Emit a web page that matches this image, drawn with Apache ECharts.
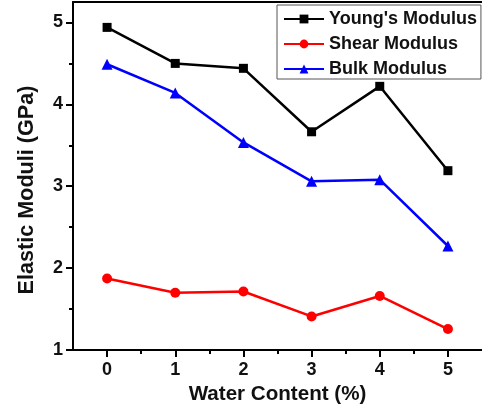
<!DOCTYPE html>
<html>
<head>
<meta charset="utf-8">
<script src="https://cdn.jsdelivr.net/npm/echarts@6/dist/echarts.min.js"></script>
<style>html,body{margin:0;padding:0;background:#fff}#c{width:482px;height:412px}</style>
</head>
<body>
<div id="c"></div>
<script>
const waterContent = [0, 1, 2, 3, 4, 5];
const youngsModulus = [4.94, 4.50, 4.44, 3.665, 4.22, 3.19];
const shearModulus = [1.874, 1.70, 1.715, 1.41, 1.66, 1.256];
const bulkModulus = [4.49, 4.14, 3.535, 3.06, 3.08, 2.27];
const xMajorTicks = [0, 1, 2, 3, 4, 5];
const xMinorTicks = [0.5, 1.5, 2.5, 3.5, 4.5];
const yMajorTicks = [1, 2, 3, 4, 5];
const yMinorTicks = [1.5, 2.5, 3.5, 4.5];

const FONT = 'Liberation Sans';
const pair = arr => waterContent.map((x, i) => [x, arr[i]]);
const chart = echarts.init(document.getElementById('c'));
const lineStyleAxis = { color: '#000', width: 2 };
chart.setOption({
  animation: false,
  backgroundColor: '#fff',
  grid: { left: 73, top: 2, right: -7, bottom: 62 },
  legend: {
    left: 277, top: 5,
    orient: 'vertical',
    borderColor: '#555', borderWidth: 1,
    padding: [5, 4, 1, 6],
    itemWidth: 40, itemHeight: 11, itemGap: 7,
    textStyle: { fontFamily: FONT, fontWeight: 'bold', fontSize: 18, color: '#111' },
    data: ["Young's Modulus", 'Shear Modulus', 'Bulk Modulus']
  },
  xAxis: [
    {
      type: 'value', position: 'bottom', min: -0.5, max: 5.5,
      axisLine: { onZero: false, lineStyle: lineStyleAxis },
      axisTick: { customValues: xMajorTicks, length: 7, lineStyle: { color: '#000', width: 2 } },
      axisLabel: { customValues: xMajorTicks, margin: 11, fontFamily: FONT, fontWeight: 'bold', fontSize: 18, color: '#111' },
      splitLine: { show: false },
      name: 'Water Content (%)', nameLocation: 'middle', nameGap: 33,
      nameTextStyle: { fontFamily: FONT, fontWeight: 'bold', fontSize: 20.6, color: '#111' }
    },
    {
      type: 'value', position: 'bottom', min: -0.5, max: 5.5,
      axisLine: { show: false, onZero: false },
      axisTick: { customValues: xMinorTicks, length: 4, lineStyle: { color: '#000', width: 2 } },
      axisLabel: { show: false }, splitLine: { show: false }
    },
    {
      type: 'value', position: 'top', min: -0.5, max: 5.5,
      axisLine: { onZero: false, lineStyle: lineStyleAxis },
      axisTick: { show: false }, axisLabel: { show: false }, splitLine: { show: false }
    }
  ],
  yAxis: [
    {
      type: 'value', position: 'left', min: 1, max: 5.25,
      axisLine: { onZero: false, lineStyle: lineStyleAxis },
      axisTick: { customValues: yMajorTicks, length: 7, lineStyle: { color: '#000', width: 2 } },
      axisLabel: { customValues: yMajorTicks, margin: 10, fontFamily: FONT, fontWeight: 'bold', fontSize: 18, color: '#111' },
      splitLine: { show: false },
      name: 'Elastic Moduli (GPa)', nameLocation: 'middle', nameGap: 35, nameRotate: 90,
      nameTextStyle: { fontFamily: FONT, fontWeight: 'bold', fontSize: 21.6, color: '#111', padding: [0, 28, 0, 0] }
    },
    {
      type: 'value', position: 'left', min: 1, max: 5.25,
      axisLine: { show: false, onZero: false },
      axisTick: { customValues: yMinorTicks, length: 4, lineStyle: { color: '#000', width: 2 } },
      axisLabel: { show: false }, splitLine: { show: false }
    }
  ],
  series: [
    {
      name: "Young's Modulus", type: 'line', data: pair(youngsModulus),
      symbol: 'rect', symbolSize: 9,
      itemStyle: { color: '#000' }, lineStyle: { color: '#000', width: 2.5 }
    },
    {
      name: 'Shear Modulus', type: 'line', data: pair(shearModulus),
      symbol: 'circle', symbolSize: 10,
      itemStyle: { color: '#ff0000' }, lineStyle: { color: '#ff0000', width: 2.5 }
    },
    {
      name: 'Bulk Modulus', type: 'line', data: pair(bulkModulus),
      symbol: 'triangle', symbolSize: 11,
      itemStyle: { color: '#0000ff' }, lineStyle: { color: '#0000ff', width: 2.5 }
    }
  ]
});
</script>
</body>
</html>
